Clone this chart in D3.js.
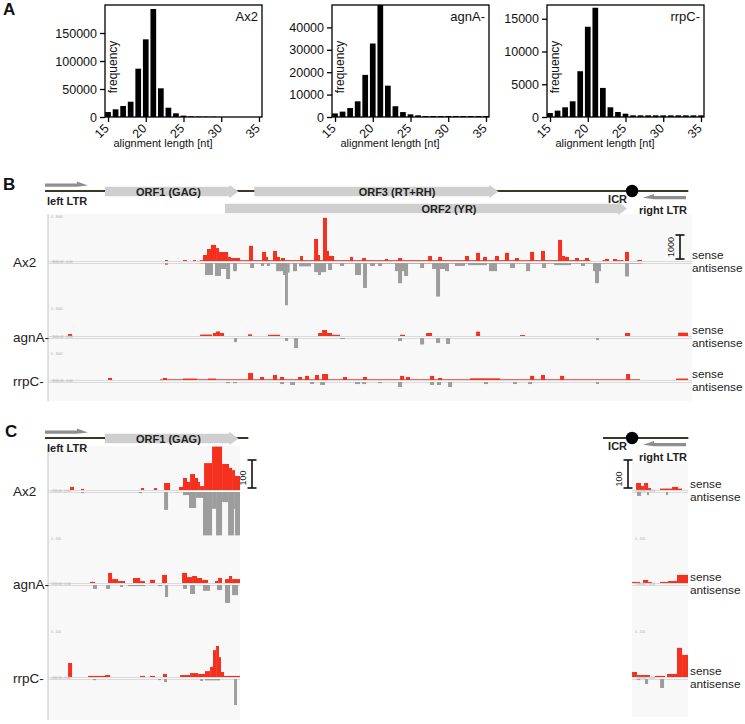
<!DOCTYPE html>
<html><head><meta charset="utf-8">
<script src="https://cdn.jsdelivr.net/npm/d3@7"></script>
<style>body{margin:0;background:#fff}svg text{font-family:"Liberation Sans",Arial,Helvetica,sans-serif}</style>
</head><body><svg id="fig" width="745" height="724"></svg>
<script>
// ================= DATA =================
// Panel A: alignment length histograms
const alignLengths = [15,16,17,18,19,20,21,22,23,24,25,26,27,28,29,30,31,32,33,34,35];
const lengthTicks = [15,20,25,30,35];
const histNames = ["Ax2","agnA-","rrpC-"];
const ax2Freq  = [8900,13700,19600,27300,86300,138700,192900,51200,16600,6600,2500,1200,900,700,600,0,0,0,0,0,0];
const agnAFreq = [1600,2400,4000,7000,18800,32800,50000,14000,4800,2200,1200,750,450,450,450,450,450,450,450,450,450];
const rrpCFreq = [610,970,1480,2400,6990,13780,16680,4440,1480,765,510,255,255,255,255,255,255,255,255,255,255];
const histMax = [200000, 50000, 17100];
const ax2Ticks = [0,50000,100000,150000];
const agnATicks = [0,10000,20000,30000,40000];
const rrpCTicks = [0,5000,10000,15000];

// Panel B/C: element annotation (bp)
const elementLength = 4830;
const orfs = [
  {name:"ORF1 (GAG)", start:450, end:1450, row:0, label:926},
  {name:"ORF3 (RT+RH)", start:1570, end:3400, row:0, label:2640},
  {name:"ORF2 (YR)", start:1350, end:4365, row:1, label:3030}
];
const ltrs = [
  {name:"left LTR", start:0, end:322, strand:1},
  {name:"right LTR", start:4485, end:4808, strand:-1}
];
const icrPos = 4403;

// Coverage segments [startBp, endBp, reads]
const bAx2Sense = [[900,923,40],[1035,1065,40],[1110,1133,40],[1160,4090,35],[4180,4230,35],[4290,4340,35],[4440,4470,30],
 [1185,1215,250],[1215,1245,500],[1245,1283,670],[1283,1305,540],[1305,1373,375],[1373,1395,170],[1395,1463,125],
 [1530,1560,630],[1628,1658,380],[1658,1673,170],[1710,1740,420],[1740,1763,170],[1770,1800,125],[1913,1935,210],
 [2018,2048,920],[2048,2063,250],[2085,2115,1800],[2115,2130,420],[2130,2168,210],[2288,2310,170],[2378,2408,125],
 [2550,2573,85],[2648,2678,125],[2873,2903,210],[2948,2978,170],[3150,3180,210],[3233,3263,340],[3285,3315,170],
 [3375,3405,210],[3450,3480,340],[3525,3555,125],[3638,3668,380],[3720,3750,420],[3848,3878,880],[3878,3900,210],
 [3900,3930,170],[3975,4005,125],[4050,4080,125],[4200,4230,85],[4260,4290,85],[4350,4380,380],[4448,4478,45]];
const bAx2Anti = [[1160,4480,25],
 [900,923,85],[1200,1260,500],[1275,1320,540],[1320,1358,250],[1358,1388,670],[1410,1440,340],[1538,1568,210],
 [1620,1643,125],[1665,1688,125],[1733,1793,340],[1785,1800,500],[1800,1822,1760],[1822,1835,400],[1860,1890,340],
 [1905,1995,140],[2018,2108,380],[2048,2070,500],[2123,2153,290],[2213,2243,125],[2325,2370,500],[2385,2415,1040],
 [2438,2475,125],[2498,2528,125],[2625,2700,340],[2648,2678,840],[2693,2723,540],[2813,2843,210],[2903,3000,250],
 [2933,2963,1400],[3000,3030,340],[3075,3150,125],[3173,3315,90],[3330,3390,340],[3488,3525,210],[3608,3638,340],
 [3728,3758,210],[3818,3945,90],[4020,4050,125],[4110,4170,340],[4125,4155,840],[4350,4380,560]];
const bAgnASense = [[173,203,85],[1163,1253,60],[1260,1283,125],[1283,1313,190],[1313,1343,125],[1523,1553,70],[1673,1763,50],
 [2048,2078,125],[2078,2115,250],[2115,2153,125],[2153,2213,50],[2663,2700,50],[2858,2903,125],[3233,3263,180],
 [3563,3600,40],[4350,4388,125],[4748,4823,140]];
const bAgnAAnti = [[1418,1440,170],[1800,1823,125],[1868,1898,420],[2213,2250,40],[2648,2678,125],[2813,2843,270],
 [2933,2963,210],[3008,3038,250],[4133,4155,85]];
const bRrpCSense = [[863,4463,30],
 [473,503,85],[885,915,85],[1035,1140,60],[1223,1283,60],[1523,1560,290],[1613,1643,125],[1710,1740,210],
 [1763,1793,125],[1898,1928,125],[1950,1980,170],[2025,2055,210],[2078,2123,250],[2235,2265,125],[2385,2415,125],
 [2663,2693,170],[2708,2738,125],[2888,2918,170],[2948,2978,85],[3188,3413,70],[3638,3668,170],[3720,3750,210],
 [3863,3893,170],[4358,4388,250],[4733,4823,60]];
const bRrpCAnti = [[1358,1388,50],[1410,1440,50],[1763,1793,85],[1838,1875,125],[1988,2018,85],[2063,2100,125],[2325,2363,85],
 [2378,2408,85],[2498,2528,50],[2648,2678,210],[2888,2918,125],[2940,2970,125],[3023,3053,210],[3293,3323,85],
 [3510,3540,85],[3623,3653,85],[4133,4155,85]];

const cAx2Sense = [[188,218,11],[270,293,4],[720,743,7],[818,840,7],[893,938,25],[1005,1035,11],[1035,1065,43],[1065,1088,29],
 [1088,1125,57],[1125,1148,43],[1148,1163,29],[1163,1193,14],[1193,1253,96],[1253,1328,200],[1328,1380,93],
 [1380,1403,79],[1403,1425,71],[1425,1463,50],
 [4433,4470,25],[4470,4493,14],[4493,4523,25],[4523,4545,7],[4613,4703,5],[4703,4748,11],[4748,4778,5]];
const cAx2Anti = [[270,293,4],[705,728,4],[893,923,64],[1035,1080,11],[1080,1133,57],[1133,1185,21],[1185,1253,200],
 [1253,1283,60],[1283,1328,200],[1328,1373,36],[1373,1418,200],[1418,1425,60],[1425,1463,170],
 [4440,4470,14],[4515,4530,11],[4658,4673,11]];
const cAgnASense = [[338,375,4],[473,503,36],[503,548,14],[548,600,7],[660,713,18],[713,750,7],[788,825,11],[878,915,29],
 [1028,1065,36],[1065,1103,21],[1103,1140,25],[1140,1178,18],[1178,1223,11],[1275,1298,7],[1298,1328,18],
 [1350,1380,14],[1380,1403,25],[1403,1463,14],
 [4403,4463,4],[4485,4523,11],[4523,4550,4],[4613,4673,4],[4673,4740,7],[4740,4823,29]];
const cAgnAAnti = [[360,390,14],[458,488,14],[563,585,7],[623,750,4],[848,878,4],[900,923,43],[1035,1065,14],
 [1088,1125,32],[1185,1238,21],[1290,1328,18],[1350,1388,64],[1403,1448,36]];
const cRrpCSense = [[173,203,50],[323,488,4],[450,488,7],[713,750,4],[788,825,4],[885,915,11],[1013,1088,7],
 [1088,1148,14],[1148,1200,11],[1200,1238,21],[1238,1260,36],[1260,1283,96],[1283,1305,111],[1305,1320,71],
 [1320,1343,18],[1343,1463,4],
 [4403,4440,18],[4440,4538,7],[4575,4650,4],[4665,4740,11],[4740,4778,104],[4778,4823,79]];
const cRrpCAnti = [[360,383,4],[848,870,4],[893,915,11],[1163,1185,7],[1200,1313,5],[1418,1440,93],
 [4440,4463,4],[4500,4523,18],[4613,4643,32]];

// ================= DRAW =================
const svg = d3.select("#fig");
const RED = "#f4301e", GREY = "#9d9d9d", BG = "#f8f8f8";

// ---- panel letters
[["A",3,15],["B",3,190],["C",5,437]].forEach(([t,x,y]) =>
  svg.append("text").attr("x",x).attr("y",y).attr("font-size",17).attr("font-weight","bold").attr("fill","#111").text(t));

// ---- Panel A
const histSeries = [ax2Freq, agnAFreq, rrpCFreq];
const histTickSets = [ax2Ticks, agnATicks, rrpCTicks];
const histLefts = [105, 332, 547];
const hTop = 5, hBottom = 117, hW = 157;
histSeries.forEach((vals, i) => {
  const L = histLefts[i];
  const g = svg.append("g");
  const x = d3.scaleLinear().domain([14.6, 35.4]).range([L, L + hW]);
  const y = d3.scaleLinear().domain([0, histMax[i]]).range([hBottom, hTop]).clamp(true);
  g.selectAll("rect.bar").data(alignLengths).join("rect").attr("class","bar")
    .attr("x", d => x(d) - 2.85).attr("width", 5.7)
    .attr("y", (d, j) => y(vals[j])).attr("height", (d, j) => hBottom - y(vals[j]))
    .attr("fill", "#000");
  g.append("rect").attr("x", L).attr("y", hTop).attr("width", hW).attr("height", hBottom - hTop)
    .attr("fill", "none").attr("stroke", "#000").attr("stroke-width", 1.3);
  const ya = g.append("g").attr("transform", `translate(${L},0)`)
    .call(d3.axisLeft(y).tickValues(histTickSets[i]).tickSize(5).tickSizeOuter(0).tickFormat(d3.format("d")));
  ya.select(".domain").remove();
  ya.selectAll("line").attr("stroke-width", 1.3);
  ya.selectAll("text").attr("font-size", 12.5).attr("fill", "#111").attr("font-family", null);
  const xa = g.append("g").attr("transform", `translate(0,${hBottom})`)
    .call(d3.axisBottom(x).tickValues(lengthTicks).tickSize(5).tickSizeOuter(0));
  xa.select(".domain").remove();
  xa.selectAll("line").attr("stroke-width", 1.3);
  xa.selectAll("text").attr("font-size", 12.5).attr("fill", "#111").attr("font-family", null)
    .attr("text-anchor", "end").attr("x", 0).attr("y", 0).attr("dy", "0.35em")
    .attr("transform", "translate(-2,9) rotate(-45)");
  g.append("text").attr("transform", `translate(${L + 12},${67}) rotate(-90)`).attr("text-anchor", "middle")
    .attr("font-size", 12).attr("fill", "#111").text("frequency");
  g.append("text").attr("x", L + 153).attr("y", 21).attr("text-anchor", "end").attr("font-size", 13).attr("fill", "#111").text(histNames[i]);
  g.append("text").attr("x", L + 58).attr("y", 147).attr("text-anchor", "middle").attr("font-size", 11).attr("fill", "#111").text("alignment length [nt]");
});

// ---- genome scale (shared by B and C)
const xs = d3.scaleLinear().domain([0, elementLength]).range([45, 689]);

function geneMap(lineY, windows) {
  const g = svg.append("g");
  const inWin = (s, e) => windows.some(([a, b]) => s >= a && e <= b);
  windows.forEach(([a, b]) => g.append("line").attr("x1", xs(a)).attr("x2", xs(b)).attr("y1", lineY).attr("y2", lineY)
    .attr("stroke", "#3a3729").attr("stroke-width", 2));
  orfs.filter(o => inWin(o.start, o.end)).forEach(o => {
    const cy = lineY + 0.5 + o.row * 17, x0 = xs(o.start), x1 = xs(o.end), h = 9;
    const pts = [[x0, cy - 4.75], [x1 - h, cy - 4.75], [x1 - h, cy - 6.8], [x1, cy], [x1 - h, cy + 6.8], [x1 - h, cy + 4.75], [x0, cy + 4.75]];
    g.append("path").attr("d", d3.line()(pts) + "Z").attr("fill", "#cfcfcf");
    g.append("text").attr("x", xs(o.label)).attr("y", cy + 4).attr("text-anchor", "middle").attr("font-size", 11)
      .attr("font-weight", "bold").attr("fill", "#222").text(o.name);
  });
  ltrs.filter(l => inWin(l.start, l.end)).forEach(l => {
    const x0 = xs(l.start), x1 = xs(l.end);
    let pts, cy;
    if (l.strand > 0) {
      cy = lineY - 6;
      pts = [[x0, cy - 1.5], [x1 - 11, cy - 1.5], [x1 - 11, cy - 3.5], [x1, cy + 0.5], [x1 - 11, cy + 1.8], [x0, cy + 1.8]];
      g.append("text").attr("x", x0 + 2).attr("y", lineY + 14).attr("font-size", 11).attr("font-weight", "bold").attr("fill", "#222").text(l.name);
    } else {
      cy = lineY + 6.5;
      pts = [[x1, cy - 1.5], [x0 + 11, cy - 1.5], [x0 + 11, cy - 3.5], [x0, cy + 0.3], [x0 + 11, cy + 1.8], [x1, cy + 1.8]];
      g.append("text").attr("x", x1 + 1).attr("y", lineY + 23).attr("text-anchor", "end").attr("font-size", 11).attr("font-weight", "bold").attr("fill", "#222").text(l.name);
    }
    g.append("path").attr("d", d3.line()(pts) + "Z").attr("fill", "#8e8e8e");
  });
  g.append("circle").attr("cx", xs(icrPos)).attr("cy", lineY).attr("r", 6.2).attr("fill", "#000");
  g.append("text").attr("x", xs(icrPos) - 5).attr("y", lineY + 12).attr("text-anchor", "end").attr("font-size", 11)
    .attr("font-weight", "bold").attr("fill", "#222").text("ICR");
}

function drawTracks(panel) {
  const g = svg.append("g");
  const defs = svg.append("defs");
  panel.bgs.forEach((b, bi) => {
    g.append("rect").attr("x", xs(b.s)).attr("y", b.top).attr("width", xs(b.e) - xs(b.s)).attr("height", b.bottom - b.top).attr("fill", BG);
    defs.append("clipPath").attr("id", panel.id + "clip" + bi).append("rect")
      .attr("x", xs(b.s)).attr("y", b.top).attr("width", xs(b.e) - xs(b.s)).attr("height", b.bottom - b.top);
  });
  if (panel.border) g.append("line").attr("x1", 48).attr("x2", 48).attr("y1", panel.border[0]).attr("y2", panel.border[1]).attr("stroke", "#c4c4c4").attr("stroke-width", 1);
  panel.tracks.forEach(t => {
    const ySense = d3.scaleLinear().domain([0, panel.clip]).range([t.base, t.base - panel.clip * panel.k]).clamp(true);
    const yAnti = d3.scaleLinear().domain([0, panel.clip]).range([t.base + 2, t.base + 2 + panel.clip * panel.k]).clamp(true);
    panel.bgs.forEach((b, bi) => {
      const cg = g.append("g").attr("clip-path", `url(#${panel.id}clip${bi})`);
      [t.base, t.base + 2].forEach(yy => cg.append("line").attr("x1", xs(b.s)).attr("x2", xs(b.e)).attr("y1", yy + 0.5).attr("y2", yy + 0.5)
        .attr("stroke", "#d2d2d2").attr("stroke-width", 0.8));
      const keep = d => d[1] > b.s && d[0] < b.e;
      cg.selectAll(null).data(t.sense.filter(keep)).join("rect")
        .attr("x", d => xs(d[0])).attr("width", d => xs(d[1]) - xs(d[0]))
        .attr("y", d => ySense(d[2])).attr("height", d => t.base - ySense(d[2])).attr("fill", RED);
      cg.selectAll(null).data(t.anti.filter(keep)).join("rect")
        .attr("x", d => xs(d[0])).attr("width", d => xs(d[1]) - xs(d[0]))
        .attr("y", t.base + 2).attr("height", d => yAnti(d[2]) - t.base - 2).attr("fill", GREY);
      cg.append("text").attr("x", xs(b.s) + 3).attr("y", t.base + 1.5).attr("font-size", 3.2).attr("fill", "#aaa").text("-" + panel.range + ".00 - 0.00");
      if (t.top) cg.append("text").attr("x", xs(b.s) + 3).attr("y", t.top).attr("font-size", 3.2).attr("fill", "#aaa").text("0 - " + panel.range);
    });
    g.append("text").attr("x", 13).attr("y", t.base + 6).attr("font-size", 13.5).attr("fill", "#222").text(t.name);
    g.append("text").attr("x", panel.labX).attr("y", t.base - 2.5).attr("font-size", 11.8).attr("fill", "#222").text("sense");
    g.append("text").attr("x", panel.labX).attr("y", t.base + 10.5).attr("font-size", 11.8).attr("fill", "#222").text("antisense");
  });
  panel.scaleBars.forEach(sb => {
    const t = panel.tracks[0];
    const y0 = t.base - 2, y1 = t.base - 2 - sb.value * panel.k;
    g.append("line").attr("x1", sb.x).attr("x2", sb.x).attr("y1", y0).attr("y2", y1).attr("stroke", "#111").attr("stroke-width", 1.6);
    [y0, y1].forEach(yy => g.append("line").attr("x1", sb.x - 4.5).attr("x2", sb.x + 4.5).attr("y1", yy).attr("y2", yy).attr("stroke", "#111").attr("stroke-width", 1.6));
    g.append("text").attr("transform", `translate(${sb.x - 6},${(y0 + y1) / 2 + sb.dy}) rotate(-90)`).attr("text-anchor", "middle")
      .attr("font-size", 9).attr("fill", "#222").text(sb.value);
  });
}

// ---- Panel B
drawTracks({
  id: "B", k: 0.024, clip: 1900, range: 3000, labX: 692,
  bgs: [{s: 22, e: 4853, top: 214, bottom: 401}], border: [214, 401],
  tracks: [
    {name: "Ax2", base: 261, top: 218, sense: bAx2Sense, anti: bAx2Anti},
    {name: "agnA-", base: 336, top: 310, sense: bAgnASense, anti: bAgnAAnti},
    {name: "rrpC-", base: 380, top: 355, sense: bRrpCSense, anti: bRrpCAnti}
  ],
  scaleBars: [{x: 680, value: 1000, dy: 0}]
});
geneMap(191, [[0, 4825]]);

// ---- Panel C
drawTracks({
  id: "C", k: 0.28, clip: 155, range: 100, labX: 690,
  bgs: [{s: 22, e: 1463, top: 446, bottom: 720}, {s: 4403, e: 4823, top: 462, bottom: 717}], border: [446, 720],
  tracks: [
    {name: "Ax2", base: 490, top: null, sense: cAx2Sense, anti: cAx2Anti},
    {name: "agnA-", base: 583, top: 540, sense: cAgnASense, anti: cAgnAAnti},
    {name: "rrpC-", base: 677, top: 633, sense: cRrpCSense, anti: cRrpCAnti}
  ],
  scaleBars: [{x: 252, value: 100, dy: 4}, {x: 628, value: 100, dy: 5}]
});
geneMap(438, [[0, 1525], [4185, 4825]]);
</script></body></html>
